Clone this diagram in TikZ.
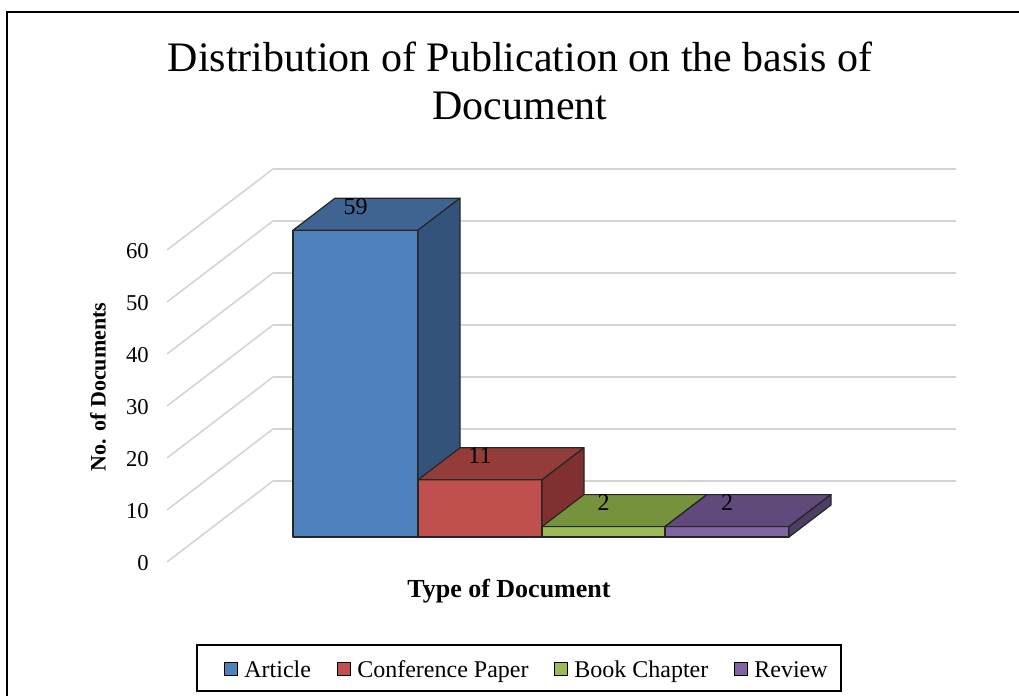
\documentclass[tikz,border=0pt]{standalone}
\usepackage{fontspec}
\setmainfont{Liberation Serif}
\usetikzlibrary{positioning}

\definecolor{artfront}{HTML}{4F81BD}
\definecolor{arttop}{HTML}{3E6492}
\definecolor{artside}{HTML}{33537B}
\definecolor{confront}{HTML}{C0504D}
\definecolor{contop}{HTML}{943C3A}
\definecolor{conside}{HTML}{7F302F}
\definecolor{bookfront}{HTML}{9BBB59}
\definecolor{booktop}{HTML}{76923C}
\definecolor{bookside}{HTML}{647D33}
\definecolor{revfront}{HTML}{8064A2}
\definecolor{revtop}{HTML}{5F4A7B}
\definecolor{revside}{HTML}{4E3D67}

\tikzset{
  gridline/.style={draw=black!17, line width=1.2pt},
  barline/.style={draw=black!85, line width=0.9pt, line join=round},
  ticklabel/.style={anchor=east, inner sep=0pt, font=\fontsize{17}{20}\selectfont},
  vallabel/.style={inner sep=0pt, font=\fontsize{18}{21}\selectfont},
  titletext/.style={inner sep=0pt, font=\fontsize{31.5}{36}\selectfont},
  axistitle/.style={inner sep=0pt, font=\bfseries\fontsize{#1}{#1}\selectfont},
  legmark/.style={draw=black, line width=1.1pt, minimum size=9.5pt, inner sep=0pt},
  legtext/.style={inner sep=0pt, text height=12.2pt, text depth=0pt, font=\fontsize{18}{21}\selectfont},
}

\begin{document}
\begin{tikzpicture}[x=0.75pt, y=-0.75pt]
        \useasboundingbox (0,0) rectangle (1019,695);
        % outer frame
        \draw [line width=1.5pt] (7,720) -- (7,12) -- (1040,12);

        % title
        \node [titletext, anchor=base] (title1) at (520,72) {Distribution of Publication on the basis of};
        \node [titletext, anchor=base] (title2) at (520,120) {Document};

        % walls and ticks
        \foreach \v in {0,10,...,60} {
            \draw [gridline] (167,{562-5.2*\v}) -- (273,{481-5.2*\v}) -- (956,{481-5.2*\v});
            \node [ticklabel] (tick\v) at (149,{563-5.2*\v}) {\v};
        }

        % bars
        \foreach \xl/\xr/\val/\cf/\ct/\cs [count=\i] in {293/418/59/artfront/arttop/artside,
                418/542/11/confront/contop/conside,
                542/665/2/bookfront/booktop/bookside,
                665/789/2/revfront/revtop/revside} {
            \pgfmathsetmacro{\yt}{537-5.2*\val}
            \draw [barline, fill=\cf] (\xl,537) rectangle (\xr,\yt);
            \draw [barline, fill=\ct] (\xl,\yt) -- ++(42,-32) -- (\xr+42,\yt-32) -- (\xr,\yt) -- cycle;
            \draw [barline, fill=\cs] (\xr,\yt) -- ++(42,-32) -- (\xr+42,505) -- (\xr,537) -- cycle;
            \node [vallabel] (val\i) at ({(\xl+\xr)/2},{\yt-24}) {\val};
        }

        % axis titles
        \node [axistitle=16.5, rotate=90] (ytitle) at (98,387) {No. of Documents};
        \node [axistitle=19.5, anchor=base] (xtitle) at (509,597) {Type of Document};

        % legend
        \draw [line width=1.1pt] (197,645) rectangle (841,691);
        \node [legmark, fill=artfront] (mart) at (231,669) {};
        \node [legtext, right=4.5pt of mart] (lart) {Article};
        \node [legmark, fill=confront] (mcon) at (344,669) {};
        \node [legtext, right=4.5pt of mcon] (lcon) {Conference Paper};
        \node [legmark, fill=bookfront] (mbook) at (561,669) {};
        \node [legtext, right=4.5pt of mbook] (lbook) {Book Chapter};
        \node [legmark, fill=revfront] (mrev) at (741,669) {};
        \node [legtext, right=4.5pt of mrev] (lrev) {Review};
    \end{tikzpicture}
\end{document}
